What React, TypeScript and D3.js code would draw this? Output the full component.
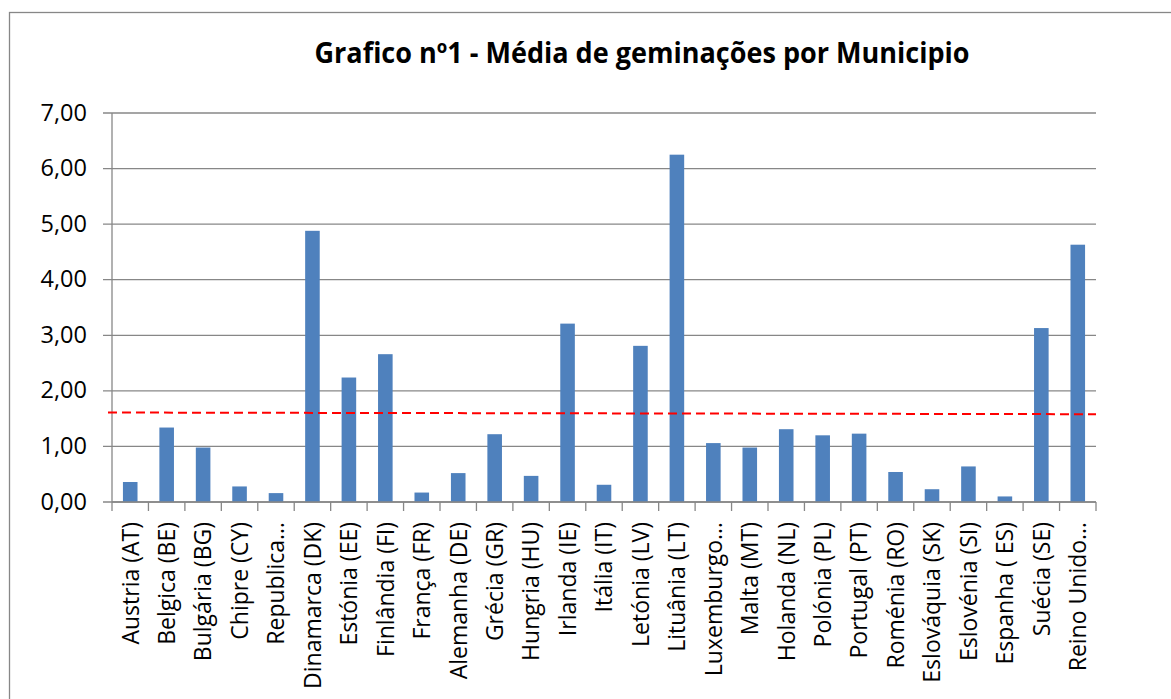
import React, { useEffect, useRef } from "react";
import * as d3 from "d3";

const categories = [
  "Austria (AT)", "Belgica (BE)", "Bulgária (BG)", "Chipre (CY)", "Republica…",
  "Dinamarca (DK)", "Estónia (EE)", "Finlândia (FI)", "França (FR)", "Alemanha (DE)",
  "Grécia (GR)", "Hungria (HU)", "Irlanda (IE)", "Itália (IT)", "Letónia (LV)",
  "Lituânia (LT)", "Luxemburgo…", "Malta (MT)", "Holanda (NL)", "Polónia (PL)",
  "Portugal (PT)", "Roménia (RO)", "Eslováquia (SK)", "Eslovénia (SI)", "Espanha ( ES)",
  "Suécia (SE)", "Reino Unido…",
];

const values = [
  0.36, 1.34, 0.98, 0.28, 0.16,
  4.88, 2.24, 2.66, 0.17, 0.52,
  1.22, 0.47, 3.21, 0.31, 2.81,
  6.25, 1.06, 0.98, 1.31, 1.20,
  1.23, 0.54, 0.23, 0.64, 0.10,
  3.13, 4.63,
];

// dashed red reference line (value at left edge, value at right edge)
const averageLine = [1.61, 1.58];

const yTicks = [0, 1, 2, 3, 4, 5, 6, 7];

const title = "Grafico nº1 - Média de geminações por Municipio";

const App = () => {
  const ref = useRef(null);

  useEffect(() => {
    const svg = d3.select(ref.current);
    svg.selectAll("*").remove();

    const left = 112, right = 1096, top = 113, bottom = 502;
    const font = "'Open Sans', sans-serif";
    const grey = "#878787";

    // outer chart border
    svg.append("rect")
      .attr("x", 9.5).attr("y", 12.5)
      .attr("width", 1300).attr("height", 800)
      .attr("fill", "white")
      .attr("stroke", grey)
      .attr("stroke-width", 1.3);

    const x = d3.scaleBand().domain(categories).range([left, right]).padding(0);
    const y = d3.scaleLinear().domain([0, 7]).range([bottom, top]);

    // gridlines + y ticks
    svg.append("g")
      .selectAll("line")
      .data(yTicks)
      .enter()
      .append("line")
      .attr("x1", left - 9)
      .attr("x2", right)
      .attr("y1", d => y(d))
      .attr("y2", d => y(d))
      .attr("stroke", grey)
      .attr("stroke-width", 1.3);

    svg.append("g")
      .selectAll("text")
      .data(yTicks)
      .enter()
      .append("text")
      .attr("x", 87)
      .attr("y", d => y(d) + 7.5)
      .attr("text-anchor", "end")
      .attr("font-family", font)
      .attr("font-size", 23.5)
      .attr("fill", "#000")
      .text(d => d3.format(".2f")(d).replace(".", ","));

    // y axis line
    svg.append("line")
      .attr("x1", left).attr("x2", left)
      .attr("y1", top).attr("y2", bottom)
      .attr("stroke", grey)
      .attr("stroke-width", 1.3);

    // bars
    const barW = x.bandwidth() / 2.5;
    svg.append("g")
      .selectAll("rect")
      .data(values)
      .enter()
      .append("rect")
      .attr("x", (d, i) => x(categories[i]) + (x.bandwidth() - barW) / 2)
      .attr("y", d => y(d))
      .attr("width", barW)
      .attr("height", d => y(0) - y(d))
      .attr("fill", "#4F81BD");

    // x axis line + ticks between categories
    svg.append("line")
      .attr("x1", left).attr("x2", right)
      .attr("y1", bottom).attr("y2", bottom)
      .attr("stroke", grey)
      .attr("stroke-width", 1.3);

    const boundaries = categories.map(c => x(c)).concat([right]);
    svg.append("g")
      .selectAll("line")
      .data(boundaries)
      .enter()
      .append("line")
      .attr("x1", d => d).attr("x2", d => d)
      .attr("y1", bottom).attr("y2", bottom + 9)
      .attr("stroke", grey)
      .attr("stroke-width", 1.3);

    // category labels
    svg.append("g")
      .selectAll("text")
      .data(categories)
      .enter()
      .append("text")
      .attr("transform", d => `translate(${x(d) + x.bandwidth() / 2}, 522) rotate(-90)`)
      .attr("dy", "0.36em")
      .attr("text-anchor", "end")
      .attr("font-family", font)
      .attr("font-size", 23)
      .attr("fill", "#000")
      .text(d => d);

    // red dashed line
    svg.append("line")
      .attr("x1", left - 4).attr("x2", right)
      .attr("y1", y(averageLine[0])).attr("y2", y(averageLine[1]))
      .attr("stroke", "#FF0000")
      .attr("stroke-width", 2)
      .attr("stroke-dasharray", "9,5");

    // title
    svg.append("text")
      .attr("x", 642)
      .attr("y", 63)
      .attr("text-anchor", "middle")
      .attr("font-family", font)
      .attr("font-weight", "bold")
      .attr("font-size", 28)
      .attr("textLength", 655)
      .attr("lengthAdjust", "spacingAndGlyphs")
      .attr("fill", "#000")
      .text(title);
  }, []);

  return (
    <svg
      ref={ref}
      width={1171}
      height={699}
      style={{ position: "absolute", left: 0, top: 0, background: "white" }}
    ></svg>
  );
};

export default App;
